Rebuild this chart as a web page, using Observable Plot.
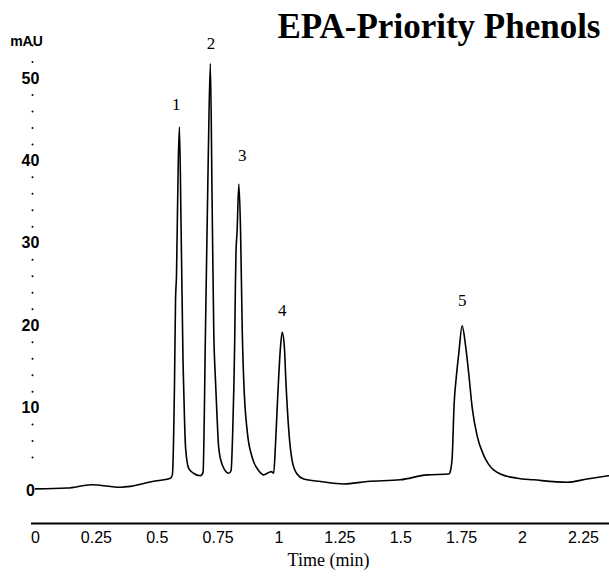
<!DOCTYPE html>
<html>
<head>
<meta charset="utf-8">
<script src="https://cdn.jsdelivr.net/npm/d3@7"></script>
<script src="https://cdn.jsdelivr.net/npm/@observablehq/plot@0.6"></script>
<style>
  html, body { margin: 0; padding: 0; background: #fff; }
</style>
</head>
<body>
<div id="chart"></div>
<script>
// Chromatogram trace: retention time (min) and absorbance (mAU)
const time = [
  0.00, 0.13, 0.23, 0.35, 0.39, 0.48, 0.554, 0.562, 0.571, 0.575, 0.579, 0.586, 0.591, 0.598, 0.606, 0.612, 0.616, 0.629, 0.649, 0.677,
  0.688, 0.698, 0.709, 0.718, 0.725, 0.732, 0.739, 0.745, 0.752, 0.766, 0.794, 0.803,
  0.810, 0.818, 0.821, 0.823, 0.828, 0.835, 0.842, 0.849, 0.855, 0.869, 0.890, 0.917, 0.937, 0.958, 0.968, 0.978,
  0.985, 0.994, 1.006, 1.013, 1.022, 1.028, 1.040, 1.054, 1.074, 1.101, 1.170, 1.266, 1.362, 1.498, 1.608, 1.697,
  1.704, 1.711, 1.719, 1.728, 1.738, 1.752, 1.765, 1.779, 1.793, 1.813, 1.840, 1.860, 1.881, 1.909, 1.977, 2.046, 2.183, 2.265, 2.353
];
const absorbance = [
  0.2, 0.3, 0.7, 0.4, 0.5, 1.1, 1.5, 1.9, 13.4, 23.1, 26.1, 39.5, 44.1, 31.6, 15.4, 8.5, 5.3, 2.7, 2.1, 1.8,
  2.2, 19.4, 39.7, 51.8, 35.6, 19.4, 13.4, 9.3, 5.3, 3.2, 2.1, 2.4,
  7.3, 18.2, 25.1, 28.5, 31.6, 37.2, 31.6, 19.4, 13.4, 7.3, 4.0, 2.4, 1.9, 2.2, 2.3, 2.1,
  5.3, 11.0, 17.4, 19.2, 17.4, 13.4, 7.3, 3.6, 2.0, 1.4, 1.1, 0.8, 1.1, 1.3, 1.9, 2.0,
  2.4, 4.0, 10.5, 13.8, 16.6, 20.0, 17.8, 14.2, 10.1, 6.7, 4.3, 3.2, 2.5, 2.0, 1.5, 1.3, 1.0, 1.4, 1.8
];

// Peak labels and their positions (time, mAU)
const peakLabels = ["1", "2", "3", "4", "5"];
const peakLabelTime = [0.578, 0.721, 0.849, 1.013, 1.752];
const peakLabelValue = [46.8, 54.2, 40.7, 21.8, 23.0];

// Axis ticks
const xTicks = [0, 0.25, 0.5, 0.75, 1, 1.25, 1.5, 1.75, 2, 2.25];
const xTickLabels = ["0", "0.25", "0.5", "0.75", "1", "1.25", "1.5", "1.75", "2", "2.25"];
const yTicks = [0, 10, 20, 30, 40, 50];
const yTickLabels = ["0", "10", "20", "30", "40", "50"];
const yMinorTicks = [4, 6, 8, 12, 14, 16, 18, 22, 24, 26, 28, 32, 34, 36, 38, 42, 44, 46, 48, 52, 54];

const title = "EPA-Priority Phenols";
const yUnit = "mAU";
const xLabel = "Time (min)";

const sans = "'Liberation Sans', Arial, sans-serif";
const serif = "'Liberation Serif', 'Times New Roman', serif";

const chart = Plot.plot({
  width: 609,
  height: 579,
  marginTop: 45,
  marginBottom: 56,
  marginLeft: 31,
  marginRight: 0,
  style: { background: "#fff", color: "#000", fontFamily: sans, overflow: "visible" },
  x: { domain: [-0.0164, 2.357], axis: null },
  y: { domain: [-4, 54], axis: null },
  marks: [
    // x axis line
    Plot.ruleY([-4], { stroke: "#000", strokeWidth: 2 }),
    // x tick labels
    Plot.text(xTicks, {
      x: d => d, text: (d, i) => xTickLabels[i], frameAnchor: "bottom",
      dy: 19, fontSize: 16, fill: "#000", fontFamily: sans
    }),
    // x axis title
    Plot.text([xLabel], {
      text: d => d, frameAnchor: "bottom", dx: 8, dy: 42,
      fontSize: 18, fontFamily: serif, fill: "#000"
    }),
    // y minor dotted ticks
    Plot.dot(yMinorTicks, { y: d => d, frameAnchor: "left", dx: 1, r: 1, fill: "#000", stroke: null }),
    // y tick labels
    Plot.text(yTicks, {
      y: d => d, text: (d, i) => yTickLabels[i], frameAnchor: "left", textAnchor: "middle",
      dx: -1, fontSize: 16, fontWeight: "bold", fill: "#000", fontFamily: sans
    }),
    // unit label
    Plot.text([yUnit], {
      text: d => d, frameAnchor: "top-left", textAnchor: "middle", dx: -5, dy: -9,
      fontSize: 14, fontWeight: "bold", fill: "#000", fontFamily: sans
    }),
    // chromatogram trace
    Plot.line(time, {
      x: time, y: absorbance, curve: "monotone-x",
      stroke: "#000", strokeWidth: 1.6
    }),
    // peak numbers
    Plot.text(peakLabels, {
      x: peakLabelTime, y: peakLabelValue, text: d => d,
      fontSize: 17, fontFamily: serif, fill: "#000"
    }),
    // title
    Plot.text([title], {
      text: d => d, frameAnchor: "top-right", textAnchor: "end", lineAnchor: "bottom",
      dx: -9, dy: -8, fontSize: 35, fontWeight: "bold", fontFamily: serif, fill: "#000"
    })
  ]
});
document.getElementById("chart").append(chart);
</script>
</body>
</html>
